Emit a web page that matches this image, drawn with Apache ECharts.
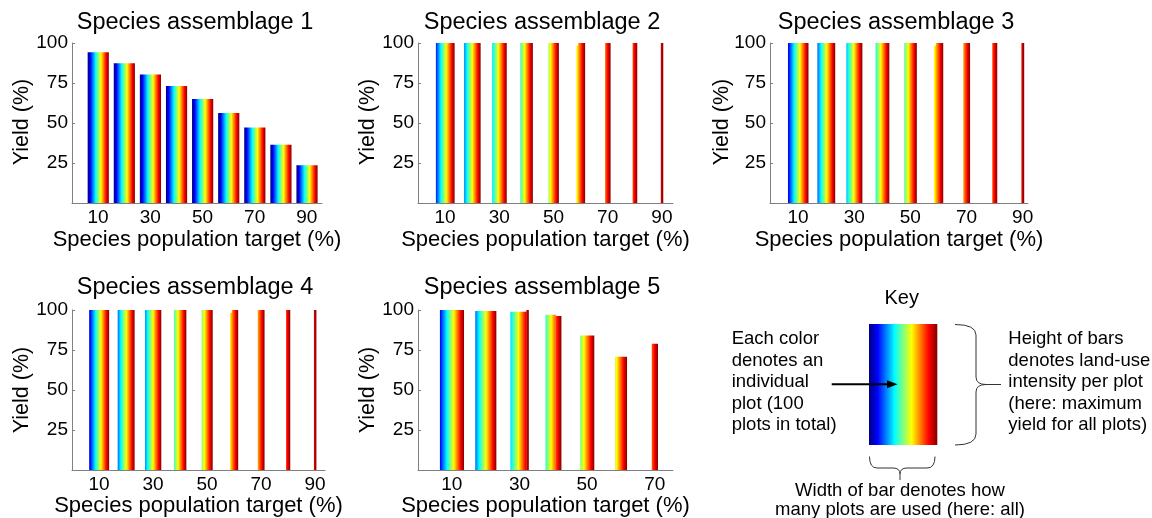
<!DOCTYPE html>
<html>
<head>
<meta charset="utf-8">
<script src="https://cdn.jsdelivr.net/npm/echarts@6/dist/echarts.min.js"></script>
<style>
html,body{margin:0;padding:0;background:#fff;}
#c{width:1152px;height:518px;}
</style>
</head>
<body>
<div id="c"></div>
<script>
// ---------- data ----------
const titles = ['Species assemblage 1','Species assemblage 2','Species assemblage 3','Species assemblage 4','Species assemblage 5'];
const targets9 = [10,20,30,40,50,60,70,80,90];
const targets7 = [10,20,30,40,50,60,70];
const yTicks = [25,50,75,100];
const xTickLabels = [10,30,50,70,90];

// yield (%) of each bar
const yield1 = [94.2, 87.4, 80.3, 73.1, 65.0, 56.3, 47.2, 36.4, 23.6];
const yield2 = [100, 100, 100, 100, 100, 100, 100, 100, 100];
const yield3 = [100, 100, 100, 100, 100, 100, 100, 100, 100];
const yield4 = [100, 100, 100, 100, 100, 100, 100, 100, 100];
const yield5 = [100, 99.4, 98.9, 97.0, 84.1, 70.8, 78.9];

// number of plots used (out of 100) in each bar
const plots1 = [100, 100, 100, 100, 100, 100, 100, 100, 100];
const plots2 = [85, 75, 66, 57, 47, 39, 24, 20, 10];
const plots3 = [90, 78, 70, 60, 55, 40, 29, 21, 11];
const plots4 = [91, 77, 74, 56, 50, 36, 30, 18, 10];
const plots5 = [88, 77, 67, 58, 51, 43, 22];

// first plots of a bar with a lower yield (assemblages 2-4, target 60)
const headTarget = [60];
const headPlots = [8];
const headYield = [98.3];

// last plots of a bar with a different yield (assemblage 5)
const tailTarget5 = [30, 40];
const tailPlots5 = [8, 21];
const tailYield5 = [100, 96.2];

// key bar
const keyYield = [100];
const keyPlots = [100];

// ---------- layout / style ----------
const FONT = '"Liberation Sans", Arial, Helvetica, sans-serif';
const BARW = 8; // full bar width in target units (all 100 plots)
const heads = {t: headTarget, n: headPlots, y: headYield};
const panels = [
  {t: targets9, y: yield1, n: plots1, grid:{left:72, top:43, width:250, height:160}, xmax:95.8, title:[195,23], ylab:[21.7,122], gap:26},
  {t: targets9, y: yield2, n: plots2, grid:{left:418, top:43, width:255, height:160}, xmax:94.1, title:[542,23], ylab:[368,122], gap:26, head:heads},
  {t: targets9, y: yield3, n: plots3, grid:{left:770, top:43, width:258, height:160}, xmax:91.9, title:[896,23], ylab:[722,122], gap:26, head:heads},
  {t: targets9, y: yield4, n: plots4, grid:{left:72, top:310, width:253, height:160}, xmax:93.7, title:[195,288], ylab:[22,390], gap:24, head:heads},
  {t: targets7, y: yield5, n: plots5, grid:{left:418, top:310, width:255, height:160}, xmax:75.4, title:[542,288], ylab:[368,390], gap:24,
   tail:{t: tailTarget5, n: tailPlots5, y: tailYield5}}
];

function clamp(v){return Math.max(0, Math.min(1, v));}
function jet(t){
  const r = clamp(Math.min(4*t-1.5, -4*t+4.5));
  const g = clamp(Math.min(4*t-0.5, -4*t+3.5));
  const b = clamp(Math.min(4*t+0.5, -4*t+2.5));
  return 'rgb(' + Math.round(r*255) + ',' + Math.round(g*255) + ',' + Math.round(b*255) + ')';
}
function jetGradient(a, b){
  const stops = [];
  const N = 24;
  for (let i = 0; i <= N; i++) {
    const s = i / N;
    stops.push({offset: s, color: jet(a + (b - a) * s)});
  }
  return {type:'linear', x:0, y:0, x2:1, y2:0, colorStops: stops, global:false};
}

// value: [target, yield, plotFrom, plotTo, plotsUsed]
function renderBar(params, api){
  const x = api.value(0), y = api.value(1), a = api.value(2), b = api.value(3), n = api.value(4);
  const full = api.size([BARW, 0])[0];
  const base = api.coord([x, 0]);
  const top = api.coord([x, y])[1];
  const left = base[0] - full * n / 200 + full * (a - (100 - n)) / 100;
  const w = full * (b - a) / 100;
  return {
    type: 'rect',
    shape: {x: left, y: top, width: w + 0.3, height: base[1] - top},
    style: {fill: jetGradient(a / 100, b / 100)}
  };
}

function buildData(p){
  const out = [];
  p.t.forEach((t, i) => {
    const n = p.n[i];
    let from = 100 - n, to = 100;
    const h = p.head ? p.head.t.indexOf(t) : -1;
    const k = p.tail ? p.tail.t.indexOf(t) : -1;
    if (h >= 0) {
      out.push([t, p.head.y[h], from, from + p.head.n[h], n]);
      from += p.head.n[h];
    }
    if (k >= 0) {
      out.push([t, p.tail.y[k], to - p.tail.n[k], to, n]);
      to -= p.tail.n[k];
    }
    out.push([t, p.y[i], from, to, n]);
  });
  return out;
}

const axisColor = '#808080';
const grid = [], xAxis = [], yAxis = [], series = [], graphic = [];

panels.forEach((p, i) => {
  grid.push(Object.assign({containLabel:false}, p.grid));
  xAxis.push({
    type:'value', gridIndex:i, min:0, max:p.xmax, interval:10,
    name:'Species population target (%)', nameLocation:'middle', nameGap:p.gap,
    nameTextStyle:{fontFamily:FONT, fontSize:22, color:'#000'},
    axisLine:{show:true, lineStyle:{color:axisColor, width:1}},
    axisTick:{show:true, inside:true, length:3, lineStyle:{color:axisColor}},
    axisLabel:{fontFamily:FONT, fontSize:19, color:'#000', margin:5, showMaxLabel:false,
      formatter: v => xTickLabels.indexOf(v) >= 0 ? String(v) : ''},
    splitLine:{show:false}
  });
  yAxis.push({
    type:'value', gridIndex:i, min:0, max:100, interval:25,
    axisLine:{show:true, lineStyle:{color:axisColor, width:1}},
    axisTick:{show:true, inside:true, length:3, lineStyle:{color:axisColor}},
    axisLabel:{fontFamily:FONT, fontSize:19, color:'#000', margin:4,
      formatter: v => yTicks.indexOf(v) >= 0 ? String(v) : ''},
    splitLine:{show:false}
  });
  series.push({
    type:'custom', xAxisIndex:i, yAxisIndex:i, renderItem:renderBar,
    data: buildData(p), silent:true, animation:false
  });
  graphic.push({type:'text', x:p.title[0], y:p.title[1], style:{text:titles[i], font:'23.5px ' + FONT, fill:'#000', align:'center', verticalAlign:'middle'}});
  graphic.push({type:'text', x:p.ylab[0], y:p.ylab[1], rotation:Math.PI/2, style:{text:'Yield (%)', font:'21.5px ' + FONT, fill:'#000', align:'center', verticalAlign:'middle'}});
});

// key bar drawn in its own hidden grid
grid.push({left:869, top:324, width:68, height:121});
xAxis.push({type:'value', gridIndex:5, min:-BARW/2, max:BARW/2, show:false});
yAxis.push({type:'value', gridIndex:5, min:0, max:100, show:false});
series.push({type:'custom', xAxisIndex:5, yAxisIndex:5, renderItem:renderBar,
  data: [[0, keyYield[0], 100 - keyPlots[0], 100, keyPlots[0]]], silent:true, animation:false});

// key annotations
const braceStyle = {stroke:'#333', lineWidth:1, fill:null};
function seg(x1,y1,x2,y2){ return {type:'line', shape:{x1,y1,x2,y2}, style:braceStyle}; }
function curve(x1,y1,cx,cy,x2,y2){ return {type:'bezierCurve', shape:{x1,y1,x2,y2,cpx1:cx,cpy1:cy}, style:braceStyle}; }
graphic.push(
  {type:'text', x:901.7, y:298, style:{text:'Key', font:'20px ' + FONT, fill:'#000', align:'center', verticalAlign:'middle'}},
  {type:'text', x:731.7, y:328.5, style:{text:'Each color\ndenotes an\nindividual\nplot (100\nplots in total)', font:'18.5px ' + FONT, fill:'#000', lineHeight:21.5, align:'left', verticalAlign:'top'}},
  {type:'text', x:1008.3, y:328.5, style:{text:'Height of bars\ndenotes land-use\nintensity per plot\n(here: maximum\nyield for all plots)', font:'18.5px ' + FONT, fill:'#000', lineHeight:21.5, align:'left', verticalAlign:'top'}},
  {type:'text', x:900, y:481, style:{text:'Width of bar denotes how\nmany plots are used (here: all)', font:'18.5px ' + FONT, fill:'#000', lineHeight:19.5, align:'center', verticalAlign:'top'}},
  {type:'line', shape:{x1:831.7, y1:384.3, x2:889, y2:384.3}, style:{stroke:'#000', lineWidth:2}, z:100},
  {type:'polygon', shape:{points:[[897.5,384.3],[887,380.3],[887,388.3]]}, style:{fill:'#000'}, z:100},
  // right brace
  curve(955,324.5, 976,324.5, 976,335), seg(976,335,976,377), curve(976,377, 976,384.5, 986,384.5), seg(986,384.5,1001,384.5),
  curve(986,384.5, 976,384.5, 976,392), seg(976,392,976,434), curve(976,434, 976,445, 955,445),
  // bottom brace
  curve(869.5,456.5, 869.5,468, 877,468), seg(877,468,893,468), curve(893,468, 900,468, 900,474), seg(900,474,900,480),
  curve(900,474, 900,468, 907,468), seg(907,468,927,468), curve(927,468, 935,468, 935,456.5)
);

const chart = echarts.init(document.getElementById('c'), null, {renderer:'canvas'});
chart.setOption({animation:false, grid, xAxis, yAxis, series, graphic});
</script>
</body>
</html>
